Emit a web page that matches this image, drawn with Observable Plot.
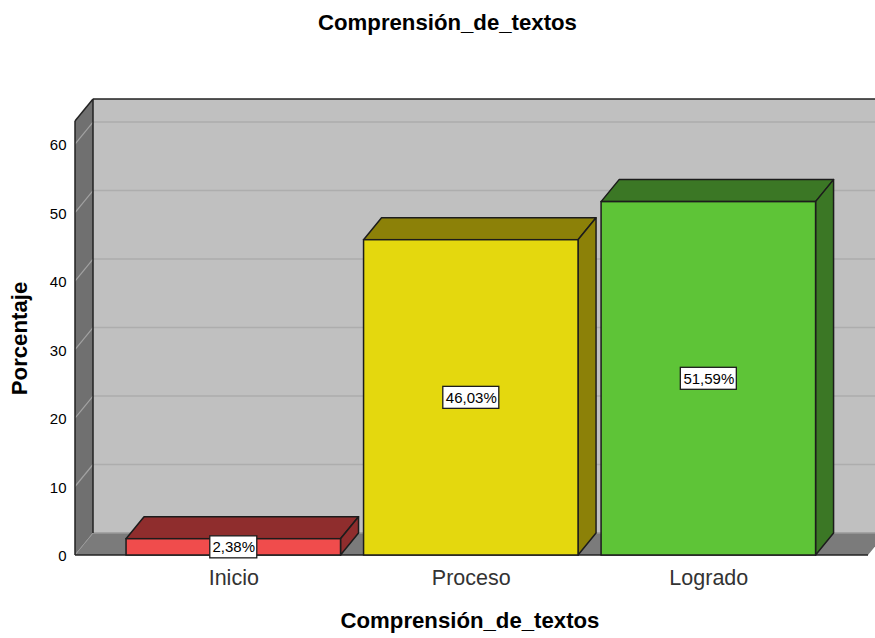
<!DOCTYPE html>
<html>
<head>
<meta charset="utf-8">
<script src="https://cdn.jsdelivr.net/npm/d3@7"></script>
<script src="https://cdn.jsdelivr.net/npm/@observablehq/plot@0.6"></script>
<style>
html,body{margin:0;padding:0;background:#fff;width:875px;height:638px;overflow:hidden;font-family:"Liberation Sans",Arial,sans-serif;color:#000}
.t{font-weight:bold;font-size:22.2px;text-align:center;position:absolute;left:0;width:895px;line-height:24px}
#title{top:11px}
#xtitle{top:609px;left:0;width:940px}
#chart{position:absolute;left:0;top:46px}
svg{display:block}
</style>
</head>
<body>
<div id="title" class="t">Comprensión_de_textos</div>
<div id="chart"></div>
<div id="xtitle" class="t">Comprensión_de_textos</div>
<script>
const categories = ["Inicio", "Proceso", "Logrado"];
const percentages = [2.38, 46.03, 51.59];
const labels = ["2,38%", "46,03%", "51,59%"];
const frontColors = ["#f04c4c", "#e4d80e", "#5ec437"];
const shadeColors = ["#8f2d2d", "#8c8108", "#3b7725"];
const yTicks = [0, 10, 20, 30, 40, 50, 60];
const gridValues = [10, 20, 30, 40, 50, 60];
const data = categories.map((category, i) => ({
  category, value: percentages[i], label: labels[i], front: frontColors[i], shade: shadeColors[i]
}));

const DX = 18, DY = 22;
const NS = "http://www.w3.org/2000/svg";
function el(name, attrs) {
  const e = document.createElementNS(NS, name);
  for (const k in attrs) e.setAttribute(k, attrs[k]);
  return e;
}
function poly(g, pts, fill, stroke, sw) {
  g.appendChild(el("polygon", {points: pts.map(p => p.join(",")).join(" "), fill, stroke: stroke || "none", "stroke-width": sw || 0, "stroke-linejoin": "round"}));
}
function seg(g, a, b, stroke, sw) {
  g.appendChild(el("line", {x1: a[0], y1: a[1], x2: b[0], y2: b[1], stroke, "stroke-width": sw}));
}

// Chart box: back wall, side wall and floor, positioned by the y scale
function box(index, {y}, values, {width, marginLeft}) {
  const g = el("g", {});
  const L = marginLeft, R = width + 20, y0 = y(0), yt = y(yDomain[1]);
  const FE = 868;
  poly(g, [[L + DX, yt - DY], [R, yt - DY], [R, y0 - DY], [L + DX, y0 - DY]], "#c0c0c0");
  poly(g, [[L, yt], [L + DX, yt - DY], [L + DX, y0 - DY], [L, y0]], "#707070");
  poly(g, [[L, y0], [L + DX, y0 - DY], [FE + DX, y0 - DY], [FE, y0]], "#7b7b7b");
  for (const v of gridValues) {
    seg(g, [L + DX, y(v) - DY], [R, y(v) - DY], "#adadad", 1.5);
    seg(g, [L, y(v)], [L + DX, y(v) - DY], "#a2a2a2", 1.2);
  }
  seg(g, [L, y0], [L + DX, y0 - DY], "#9a9a9a", 1);
  seg(g, [L + DX, y0 - DY], [R, y0 - DY], "#9a9a9a", 1.5);
  seg(g, [L + DX, yt - DY], [L + DX, y0 - DY], "#222", 1.5);
  seg(g, [L, yt], [L, y0], "#222", 1.5);
  seg(g, [L, yt], [L + DX, yt - DY], "#222", 1.5);
  seg(g, [L + DX, yt - DY], [R, yt - DY], "#222", 1.5);
  seg(g, [L, y0], [FE, y0], "#222", 1.5);
  return g;
}

// Top and right faces of each bar
function depthFaces(index, {x, y}) {
  const g = el("g", {});
  const bw = x.bandwidth();
  for (const d of data) {
    const x1 = x(d.category), x2 = x1 + bw, y1 = y(d.value), y0 = y(0);
    poly(g, [[x1, y1], [x1 + DX, y1 - DY], [x2 + DX, y1 - DY], [x2, y1]], d.shade, "#1c1c1c", 1.5);
    poly(g, [[x2, y1], [x2 + DX, y1 - DY], [x2 + DX, y0 - DY], [x2, y0]], d.shade, "#1c1c1c", 1.5);
  }
  return g;
}

// White boxes behind the percentage labels
function labelBoxes(index, {x, y}) {
  const g = el("g", {});
  const bw = x.bandwidth();
  for (const d of data) {
    const w = d.label.length > 5 ? 56 : 47, h = 22;
    g.appendChild(el("rect", {
      x: x(d.category) + bw / 2 - w / 2, y: y(d.value / 2) - h / 2, width: w, height: h,
      fill: "#fff", stroke: "#1c1c1c", "stroke-width": 1.3
    }));
  }
  return g;
}

const yDomain = [0, 63.36];
const chart = Plot.plot({
  width: 875,
  height: 552,
  marginLeft: 75,
  marginRight: 0,
  marginTop: 75,
  marginBottom: 43,
  style: {fontFamily: '"Liberation Sans",Arial,sans-serif', color: "#000", background: "transparent", overflow: "hidden"},
  x: {type: "band", domain: categories, range: [103, 838.6], padding: 0.097, round: false, label: null},
  y: {domain: yDomain, range: [509, 75], label: null},
  color: {type: "identity"},
  marks: [
    box,
    depthFaces,
    Plot.barY(data, {x: "category", y: "value", fill: "front", stroke: "#1c1c1c", strokeWidth: 1.5, inset: 0}),
    labelBoxes,
    Plot.text(data, {x: "category", y: d => d.value / 2, text: "label", fontSize: 15, fill: "#000"}),
    Plot.axisY({ticks: yTicks, tickSize: 0, tickPadding: 9, dy: 1, fontSize: 15, label: null, fill: "#000"}),
    Plot.axisX({tickSize: 0, tickPadding: 14, fontSize: 21.5, label: null, fill: "#333", fontWeight: 300}),
    Plot.text(["Porcentaje"], {y: yDomain[1] / 2, frameAnchor: "left", textAnchor: "middle", dx: -56, rotate: -90, fontSize: 22.2, fontWeight: "bold", fill: "#000"})
  ]
});
document.getElementById("chart").appendChild(chart);
</script>
</body>
</html>
